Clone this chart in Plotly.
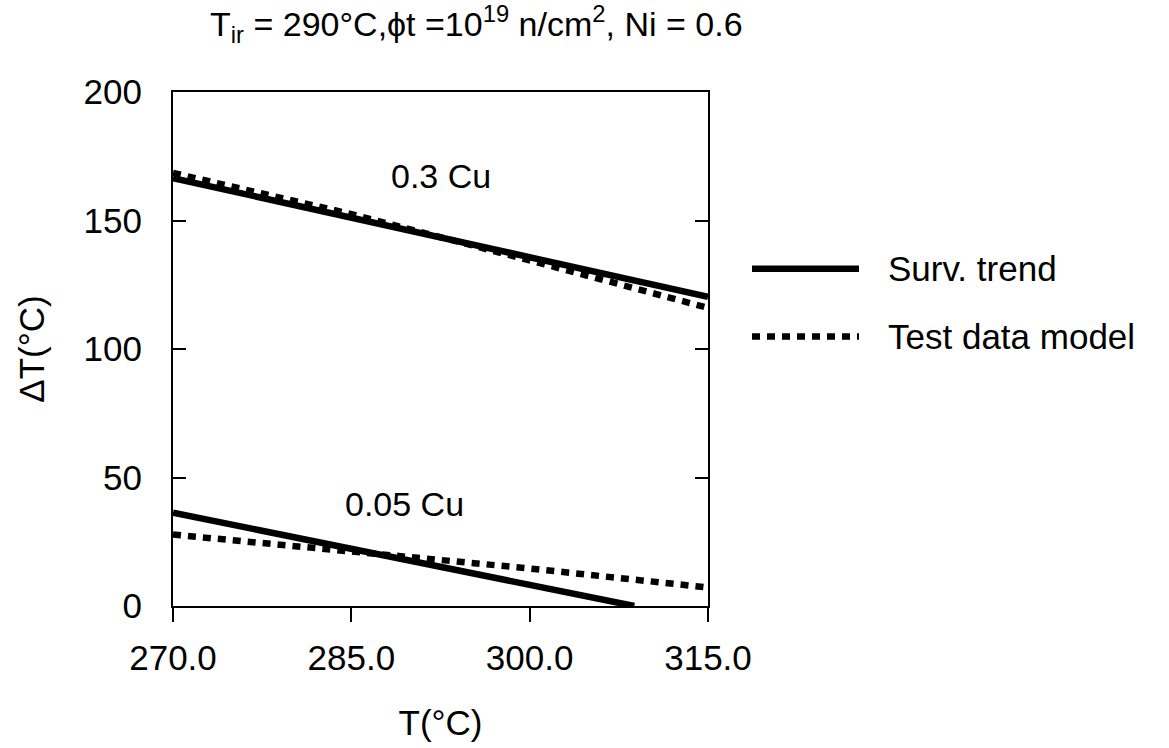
import plotly.graph_objects as go

# ---- data ----
x_surv_03 = [270, 315]
y_surv_03 = [166.5, 120.3]
x_test_03 = [270, 285, 300, 315]
y_test_03 = [168.5, 152.5, 134.5, 116.0]
x_surv_005 = [270, 308.8]
y_surv_005 = [36.3, 0.0]
x_test_005 = [270, 285, 300, 315]
y_test_005 = [27.8, 21.5, 14.6, 7.2]

x_tickvals = [270, 285, 300, 315]
x_ticktext = ["270.0", "285.0", "300.0", "315.0"]
y_tickvals = [0, 50, 100, 150, 200]

series_names = ["Surv. trend", "Test data model"]
curve_labels = ["0.3 Cu", "0.05 Cu"]
curve_label_pos = [(292.5, 167.5), (289.5, 39.5)]

FONT = "Liberation Sans, Arial, Helvetica, sans-serif"
W, H = 1169, 748
L, R, T, B = 173, 461, 92, 124

solid = dict(color="black", width=6.5)
dotted = dict(color="black", width=6.5, dash="8px,7px")

fig = go.Figure()
fig.add_trace(go.Scatter(x=x_surv_03, y=y_surv_03, mode="lines", line=solid,
                         name=series_names[0], showlegend=False))
fig.add_trace(go.Scatter(x=x_test_03, y=y_test_03, mode="lines", line=dotted,
                         name=series_names[1], showlegend=False))
fig.add_trace(go.Scatter(x=x_surv_005, y=y_surv_005, mode="lines", line=solid,
                         name=series_names[0], showlegend=False))
fig.add_trace(go.Scatter(x=x_test_005, y=y_test_005, mode="lines", line=dotted,
                         name=series_names[1], showlegend=False))

for txt, (cx, cy) in zip(curve_labels, curve_label_pos):
    fig.add_annotation(x=cx, y=cy, xref="x", yref="y", text=txt, showarrow=False,
                       font=dict(family=FONT, size=34, color="black"))

# manual legend (long sample lines as in the reference)
pw = W - L - R
ph = H - T - B
def px_x(p):
    return (p - L) / pw
def px_y(p):
    return (H - B - p) / ph

legend_rows = [(275, solid), (345, dotted)]
for name, (yy, style) in zip(series_names, legend_rows):
    fig.add_shape(type="line", xref="paper", yref="paper",
                  x0=px_x(752), x1=px_x(859), y0=px_y(yy), y1=px_y(yy),
                  line=style)
    fig.add_annotation(xref="paper", yref="paper", x=px_x(886), y=px_y(yy),
                       xanchor="left", yanchor="middle", text=name, showarrow=False,
                       font=dict(family=FONT, size=35, color="black"))

fig.update_layout(
    width=W, height=H, autosize=False,
    margin=dict(l=L, r=R, t=T, b=B, pad=0),
    paper_bgcolor="white", plot_bgcolor="white",
    font=dict(family=FONT, size=35, color="black"),
    title=dict(text="T<sub>ir</sub> = 290°C,ϕt =10<sup>19</sup> n/cm<sup>2</sup>, Ni = 0.6",
               xref="container", yref="container", x=210 / W, y=1 - 24 / H,
               xanchor="left", yanchor="middle",
               font=dict(family=FONT, size=34, color="black")),
    showlegend=False,
)
fig.update_xaxes(range=[270, 315], tickvals=x_tickvals, ticktext=x_ticktext,
                 ticks="outside", ticklen=14, tickwidth=2, tickcolor="black",
                 showline=True, linewidth=2, linecolor="black", mirror=True,
                 showgrid=False, zeroline=False, ticklabelstandoff=6,
                 title=dict(text="T(°C)", standoff=34,
                            font=dict(family=FONT, size=35)),
                 tickfont=dict(family=FONT, size=35))
fig.update_yaxes(range=[0, 200], tickvals=y_tickvals,
                 ticks="inside", ticklen=13, tickwidth=2, tickcolor="black",
                 showline=True, linewidth=2, linecolor="black", mirror="ticks",
                 showgrid=False, zeroline=False, ticklabelstandoff=22,
                 title=dict(text="ΔT(°C)", standoff=28,
                            font=dict(family=FONT, size=35)),
                 tickfont=dict(family=FONT, size=35))

fig.write_html("out.html")
